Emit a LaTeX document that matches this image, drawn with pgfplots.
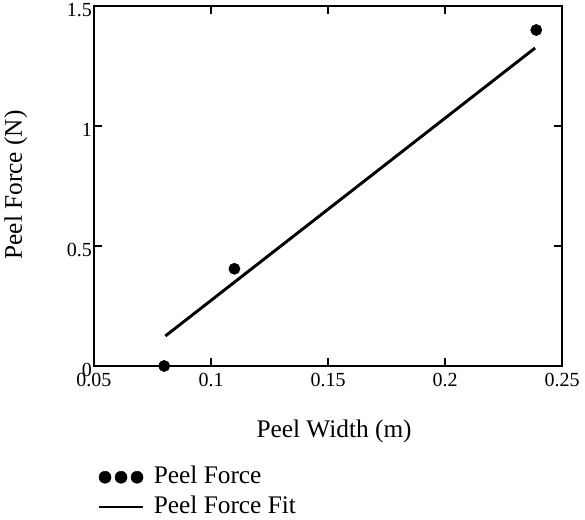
\documentclass[border=0pt]{standalone}
\usepackage{fontspec}
\setmainfont{Liberation Serif}
\usepackage{pgfplots}
\pgfplotsset{compat=1.18}

\begin{document}
\begin{tikzpicture}
\useasboundingbox (-70.5pt,-115.5pt) rectangle (368.25pt,274.5pt);
\begin{axis}[
  at={(0,0)}, anchor=south west,
  scale only axis,
  width=351pt, height=270pt,
  xmin=0.05, xmax=0.25, ymin=0, ymax=1.5,
  xtick={0.05,0.1,0.15,0.2,0.25},
  ytick={0,0.5,1,1.5},
  xticklabels={0.05,0.1,0.15,0.2,0.25},
  yticklabels={0,0.5,1,1.5},
  tick align=inside,
  major tick length=6pt,
  axis line style={line width=1.2pt},
  every tick/.style={black, line width=1.2pt},
  tick label style={font=\fontsize{15}{17}\selectfont},
  /pgf/number format/assume math mode=true,
  xticklabel style={yshift=-1.5pt},
  yticklabel style={xshift=2pt, yshift=-3pt},
  xlabel={Peel Width (m)},
  ylabel={Peel Force (N)},
  label style={font=\fontsize{19}{21}\selectfont},
  xlabel style={at={(0.513,-0.183)}, anchor=center},
  ylabel style={at={(-0.167,0.503)}, anchor=center},
  legend style={at={(0.0085,-0.275)}, anchor=north west, draw=none,
    inner sep=0pt, font=\fontsize{19}{21}\selectfont, row sep=4.5pt,
    nodes={inner sep=0pt, text height=14pt, text depth=4pt},
    /tikz/every odd column/.append style={column sep=7.5pt}},
  legend cell align=left,
]
\addplot[only marks, mark=*, mark size=4.2pt, black,
  legend image code/.code={
    \fill[black] (4.5pt,0) circle (4.5pt);
    \fill[black] (16.5pt,0) circle (4.5pt);
    \fill[black] (28.5pt,0) circle (4.5pt);}]
  coordinates {(0.080,0.0)(0.110,0.405)(0.239,1.40)};
\addlegendentry{Peel Force}
\addplot[black, line width=2.2pt,
  legend image code/.code={
    \draw[black, line width=1.2pt] (0pt,0) -- (33pt,0);}]
  coordinates {(0.0805,0.125)(0.2385,1.325)};
\addlegendentry{Peel Force Fit}
\end{axis}
\end{tikzpicture}
\end{document}
